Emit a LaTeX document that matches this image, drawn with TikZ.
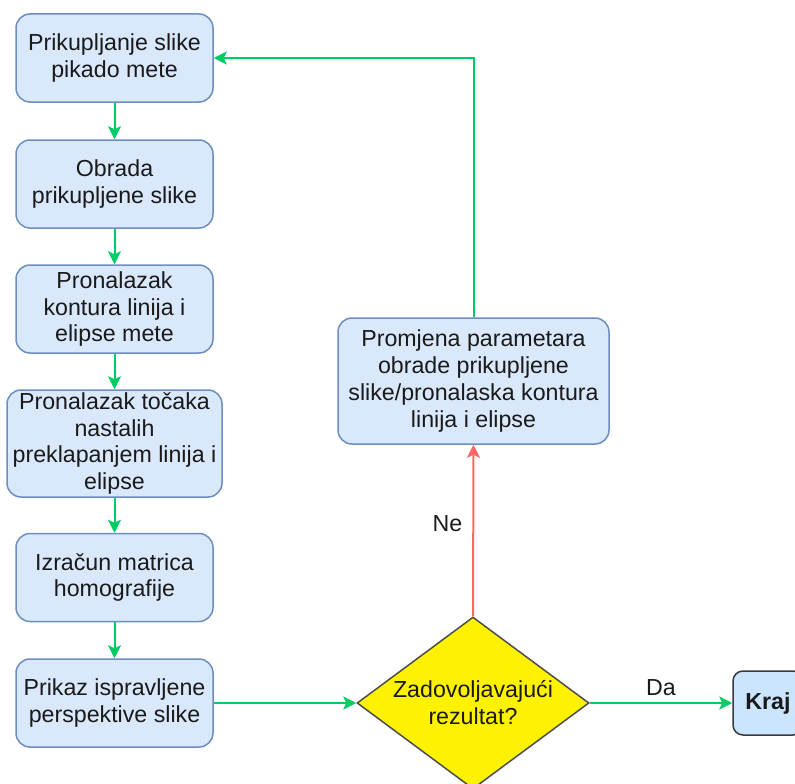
\documentclass[tikz,border=0pt]{standalone}
\usepackage{fontspec}
\setmainfont{Liberation Sans}
\usetikzlibrary{shapes.geometric,arrows.meta}
\definecolor{boxfill}{HTML}{DAE8FC}
\definecolor{boxline}{HTML}{6C8EBF}
\definecolor{arrgreen}{HTML}{00CC66}
\definecolor{arrred}{HTML}{FF6666}
\definecolor{txt}{HTML}{1A1A1A}
\definecolor{kfill}{HTML}{CCE5FF}
\definecolor{kline}{HTML}{36393D}
\definecolor{dline}{HTML}{4D4D4D}
\begin{document}
\begin{tikzpicture}[x=1pt,y=-1pt,
  font=\fontsize{23.2}{26.9}\selectfont,
  box/.style={draw=boxline, fill=boxfill, line width=1.5pt, rounded corners=14pt,
    align=center, text=txt, inner sep=0pt, minimum width=197pt, minimum height=88pt},
  garrow/.style={draw=arrgreen, line width=2pt, -{Stealth[length=13pt,width=13pt,inset=3pt]}},
  rarrow/.style={draw=arrred, line width=2pt, -{Stealth[length=13pt,width=13pt,inset=3pt]}},
  lbl/.style={text=txt, inner sep=0pt}
]
\useasboundingbox (0,0) rectangle (795,784);
\node[box] (b1) at (114.5,58) {Prikupljanje slike\\pikado mete};
\node[box] (b2) at (114.5,184) {Obrada\\prikupljene slike};
\node[box] (b3) at (114.5,309) {Pronalazak\\kontura linija i\\elipse mete};
\node[box, minimum width=215pt, minimum height=107pt] (b4) at (114.5,443.5) {Pronalazak točaka\\nastalih\\preklapanjem linija i\\elipse};
\node[box] (b5) at (114.5,577.5) {Izračun matrica\\homografije};
\node[box] (b6) at (114.5,703) {Prikaz ispravljene\\perspektive slike};
\node[box, minimum width=271pt, minimum height=126pt] (p) at (473.5,381) {Promjena parametara\\obrade prikupljene\\slike/pronalaska kontura\\linija i elipse};
\node[diamond, draw=dline, fill=yellow, line width=1.5pt, minimum width=232pt, minimum height=172pt, inner sep=0pt] (d) at (473,703) {};
\node[lbl, align=center] (dt) at (d.center) {Zadovoljavajući\\rezultat?};
\node[draw=kline, fill=kfill, line width=1.5pt, rounded corners=10pt, minimum width=70pt, minimum height=64pt, inner sep=0pt, text=txt, font=\fontsize{23.2}{26.9}\selectfont\bfseries] (k) at (768,703) {Kraj};

\draw[garrow] (b1) -- (b2);
\draw[garrow] (b2) -- (b3);
\draw[garrow] (b3) -- (b4);
\draw[garrow] (b4) -- (b5);
\draw[garrow] (b5) -- (b6);
\draw[garrow] (b6.east) -- (d.west);
\draw[garrow] (d.east) -- node[lbl, above=6pt] (da) {Da} (k.west);
\draw[rarrow] (d.north) -- node[lbl, left=10pt, pos=0.54] (ne) {Ne} (p.south);
\draw[garrow] (p.north) |- (b1.east);
\end{tikzpicture}
\end{document}
